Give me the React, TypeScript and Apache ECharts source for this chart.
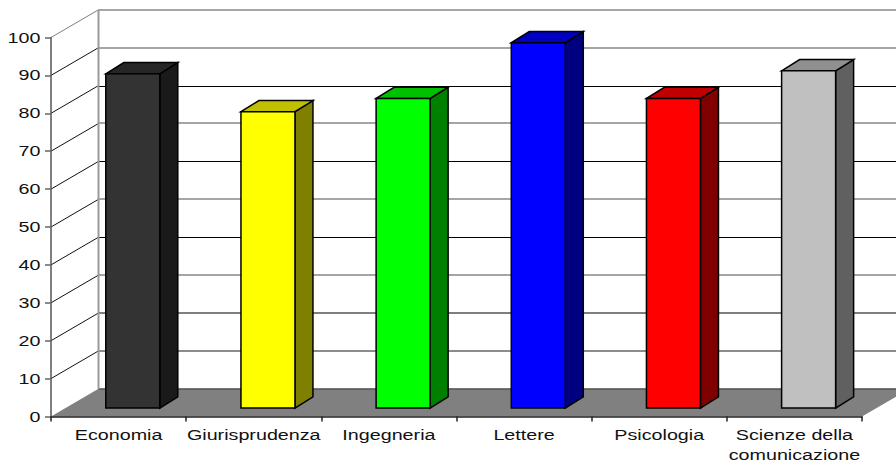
import React, { useEffect, useRef } from "react";
import * as echarts from "echarts";

const categories = ["Economia", "Giurisprudenza", "Ingegneria", "Lettere", "Psicologia", "Scienze della\ncomunicazione"];
const values = [88.2, 78.2, 81.7, 96.4, 81.7, 89];
const frontColors = ["#333333", "#ffff00", "#00ff00", "#0000ff", "#ff0000", "#c0c0c0"];
const topColors = ["#262626", "#c0c000", "#00c000", "#0000c0", "#c00000", "#909090"];
const sideColors = ["#1a1a1a", "#808000", "#008000", "#000080", "#800000", "#606060"];
const yTicks = [0, 10, 20, 30, 40, 50, 60, 70, 80, 90, 100];
const backLineColors = ["#555555", "#666666", "#555555", "#888888", "#000000", "#888888", "#000000", "#888888", "#000000", "#888888", "#888888"];

const DX = 47.5;
const DY = 27.7;
const FONT = "14.5px 'Liberation Sans', Arial, sans-serif";
const STRETCH = 1.36;

export default function App() {
  const ref = useRef<HTMLDivElement>(null);
  useEffect(() => {
    const chart = echarts.init(ref.current!, undefined, { renderer: "svg" });
    chart.setOption({
      animation: false,
      backgroundColor: "#ffffff",
      grid: { left: 51, top: 37.5, width: 811, height: 379 },
      xAxis: {
        type: "category",
        data: categories,
        z: 5,
        axisLine: { lineStyle: { color: "#222222", width: 1.5 } },
        axisTick: { show: true, length: 5, lineStyle: { color: "#222222", width: 1.5 } },
        axisLabel: { show: false },
      },
      yAxis: {
        type: "value",
        min: 0,
        max: 100,
        interval: 10,
        z: 5,
        axisLine: { show: true, lineStyle: { color: "#555555", width: 1.5 } },
        axisTick: { show: true, length: 6, lineStyle: { color: "#666666", width: 1.5 } },
        axisLabel: { show: false },
        splitLine: { show: false },
      },
      series: [
        {
          type: "custom",
          silent: true,
          data: yTicks.map((v, i) => [i, v]),
          encode: { x: 0, y: 1 },
          renderItem: (_p: any, api: any) => {
            const i = api.value(0);
            const v = api.value(1);
            const w = api.size([1, 0])[0];
            const c = api.coord([0, v]);
            const left = c[0] - w / 2;
            const y = c[1];
            const thin = backLineColors[i] === "#000000";
            const backY = thin ? Math.round(y - DY) + 0.5 : Math.round(y - DY);
            const children: any[] = [];
            if (v === 0) {
              children.push({
                type: "polygon",
                shape: { points: [[left, y], [left + DX, y - DY], [left + w * 6 + DX, y - DY], [left + w * 6, y]] },
                style: { fill: "#808080" },
              });
            }
            children.push({
              type: "line",
              shape: { x1: left + DX, y1: backY, x2: left + w * 6 + DX, y2: backY },
              style: { stroke: backLineColors[i], lineWidth: thin ? 1 : 1.6 },
            });
            if (v > 0) {
              children.push({
                type: "line",
                shape: { x1: left, y1: y, x2: left + DX, y2: y - DY },
                style: { stroke: v === 100 ? "#808080" : "#111111", lineWidth: 1 },
              });
            }
            if (v === 100) {
              const y0 = api.coord([0, 0])[1];
              children.push({
                type: "line",
                shape: { x1: left + DX, y1: y - DY, x2: left + DX, y2: y0 - DY },
                style: { stroke: "#999999", lineWidth: 2 },
              });
            }
            children.push({
              type: "text",
              x: left - 10.5,
              y,
              scaleX: STRETCH,
              style: { text: String(v), font: FONT, fill: "#111111", align: "right", verticalAlign: "middle" },
            });
            return { type: "group", children };
          },
        },
        {
          type: "custom",
          silent: true,
          data: values.map((v, i) => [i, v]),
          encode: { x: 0, y: 1 },
          renderItem: (_p: any, api: any) => {
            const i = api.value(0);
            const top = api.coord([i, api.value(1)]);
            const base = api.coord([i, 0]);
            const cx = top[0] + 14.2;
            const half = 27;
            const shift = 8.4;
            const x1 = cx - half;
            const x2 = cx + half;
            const yt = top[1] - shift;
            const yb = base[1] - shift;
            const dx = 18;
            const dy = 11.2;
            const stroke = "#000000";
            const lineWidth = 1.5;
            return {
              type: "group",
              children: [
                {
                  type: "polygon",
                  shape: { points: [[x2, yt], [x2 + dx, yt - dy], [x2 + dx, yb - dy], [x2, yb]] },
                  style: { fill: sideColors[i], stroke, lineWidth },
                },
                {
                  type: "polygon",
                  shape: { points: [[x1, yt], [x1 + dx, yt - dy], [x2 + dx, yt - dy], [x2, yt]] },
                  style: { fill: topColors[i], stroke, lineWidth },
                },
                {
                  type: "rect",
                  shape: { x: x1, y: yt, width: x2 - x1, height: yb - yt },
                  style: { fill: frontColors[i], stroke, lineWidth },
                },
              ],
            };
          },
        },
        {
          type: "custom",
          silent: true,
          z: 6,
          data: categories.map((_c, i) => [i, 0]),
          encode: { x: 0, y: 1 },
          renderItem: (_p: any, api: any) => {
            const i = api.value(0);
            const c = api.coord([i, 0]);
            return {
              type: "text",
              x: c[0],
              y: c[1] + 9,
              scaleX: STRETCH,
              style: {
                text: categories[i],
                font: FONT,
                fill: "#111111",
                align: "center",
                verticalAlign: "top",
                lineHeight: 19.5,
              },
            };
          },
        },
      ],
    });
    return () => chart.dispose();
  }, []);
  return <div ref={ref} style={{ position: "fixed", left: 0, top: 0, width: 896, height: 465 }} />;
}
